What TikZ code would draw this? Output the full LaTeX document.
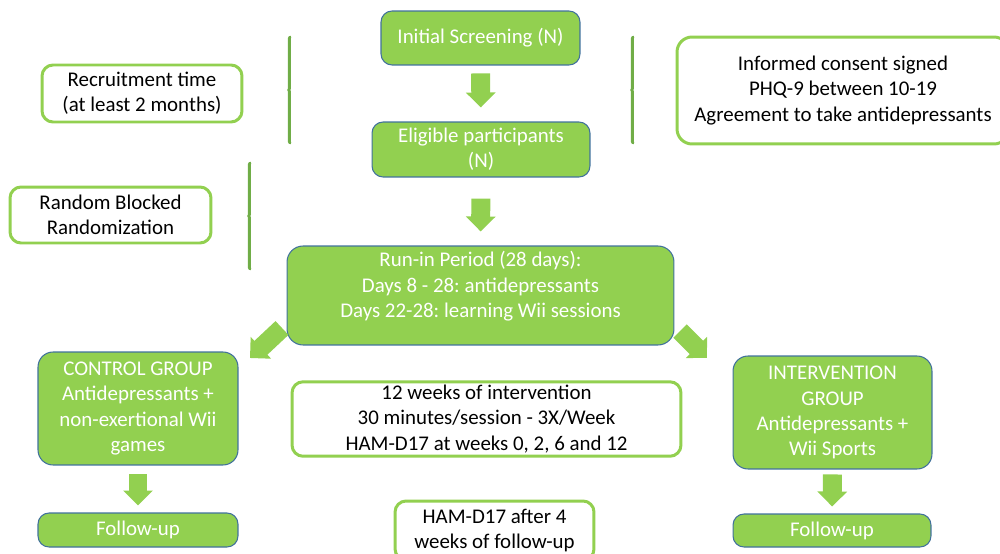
\documentclass[tikz,border=0pt]{standalone}
\usepackage{fontspec}
\setmainfont{Carlito}
\usetikzlibrary{arrows.meta,decorations.pathreplacing}
\definecolor{leaf}{HTML}{92D050}
\definecolor{darkleaf}{HTML}{70AD47}
\definecolor{edge}{HTML}{41719C}
\tikzset{
  greenbox/.style={draw=edge, line width=0.6pt, fill=leaf, text=white, rounded corners=0.22cm, align=center, inner sep=2pt},
  whitebox/.style={draw=leaf, line width=1.7pt, fill=white, text=black, rounded corners=0.22cm, align=center, inner sep=2pt},
  fatarrow/.style={draw=leaf, line width=10.8pt, -{Triangle[length=8.5pt, width=16.5pt]}},
  bracket/.style={draw=darkleaf, line width=1.6pt, line cap=round, decorate, decoration={brace, amplitude=0.7pt, aspect=0.5}}
}
\frenchspacing
\begin{document}
\begin{tikzpicture}[x=0.02cm, y=-0.02cm, font=\fontsize{11.9}{14.3}\selectfont]
  \useasboundingbox (0,0) rectangle (1000,554);
  % main column
  \node[greenbox, minimum width=3.98cm, minimum height=1.08cm] (init) at (480.5,38) {Initial Screening (N)};
  \node[greenbox, minimum width=4.36cm, minimum height=1.1cm] (elig) at (481,149.5) {Eligible participants\\(N)};
  \node[greenbox, rounded corners=0.32cm, minimum width=7.74cm, minimum height=1.98cm] (runin) at (480.5,295.5) {Run-in Period (28 days):\\Days 8 - 28: antidepressants\\Days 22-28: learning Wii sessions\\[-1.7pt]\mbox{}};
  % groups
  \node[greenbox, rounded corners=0.3cm, minimum width=4cm, minimum height=2.26cm] (ctrl) at (138,408.5) {CONTROL GROUP\\Antidepressants +\\non-exertional Wii\\games};
  \node[greenbox, minimum width=4cm, minimum height=0.68cm] (fuctrl) at (138,530) {Follow-up};
  \node[greenbox, rounded corners=0.3cm, minimum width=3.98cm, minimum height=2.26cm] (interv) at (832.5,412.5) {INTERVENTION\\GROUP\\Antidepressants +\\Wii Sports};
  \node[greenbox, minimum width=3.96cm, minimum height=0.66cm] (fuinterv) at (832,530.5) {Follow-up};
  % side notes
  \node[whitebox, minimum width=4cm, minimum height=1.14cm] (recruit) at (142,93.5) {Recruitment time\\(at least 2 months)};
  \node[whitebox, minimum width=4.02cm, minimum height=1.12cm] (random) at (110.5,215) {Random Blocked\\Randomization};
  \node[whitebox, rounded corners=0.3cm, minimum width=6.64cm, minimum height=2.14cm] (consent) at (843,90.5) {Informed consent signed\\PHQ-9 between 10-19\\Agreement to take antidepressants};
  \node[whitebox, minimum width=7.78cm, minimum height=1.48cm] (weeks) at (486.5,419) {12 weeks of intervention\\30 minutes/session - 3X/Week\\HAM-D17 at weeks 0, 2, 6 and 12};
  \node[whitebox, minimum width=3.98cm, minimum height=1.18cm] (hamd) at (494.5,530.5) {HAM-D17 after 4\\weeks of follow-up};
  % brackets
  \draw[bracket] (290,143) -- (290,37);
  \draw[bracket] (633,143) -- (633,37);
  \draw[bracket] (250,269) -- (250,163);
  % arrows
  \coordinate (lfrom) at (282,328);
  \coordinate (lto) at (250,358);
  \coordinate (rfrom) at (680,331);
  \coordinate (rto) at (707,358);
  \draw[fatarrow, shorten <=4.5pt, shorten >=8pt] (init.south) -- (elig.north);
  \draw[fatarrow, shorten <=12pt, shorten >=8pt] (elig.south) -- (runin.north);
  \draw[fatarrow] (lfrom) -- (lto);
  \draw[fatarrow] (rfrom) -- (rto);
  \draw[fatarrow, shorten <=5.1pt, shorten >=4pt] (ctrl.south) -- (fuctrl.north);
  \draw[fatarrow, shorten <=2.8pt, shorten >=4pt] (interv.south) -- (fuinterv.north);
\end{tikzpicture}
\end{document}
